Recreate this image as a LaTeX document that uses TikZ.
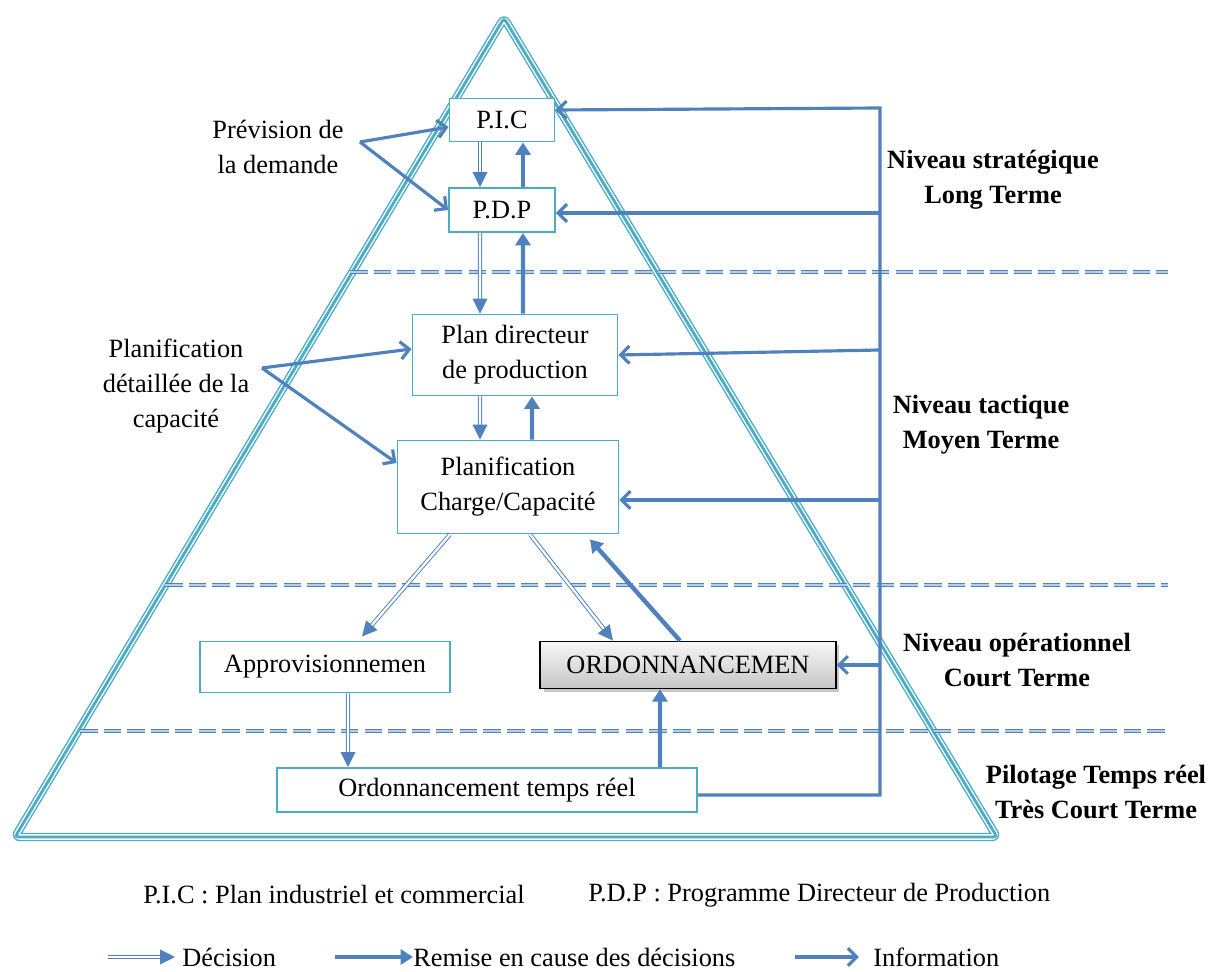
\documentclass[tikz,border=0pt]{standalone}
\usepackage{fontspec}
\setmainfont{Liberation Serif}
\usepackage{tikz}
\usetikzlibrary{arrows.meta, positioning, calc, shadows, decorations.markings}
\definecolor{infoblue}{RGB}{79,129,189}
\definecolor{pyramidcyan}{RGB}{75,172,198}
\newcommand{\diagfont}{\fontsize{15}{20}\selectfont}
\tikzstyle{box} = [rectangle, draw=pyramidcyan, line width=1.1pt, fill=white, align=center, inner sep=2pt]
\tikzstyle{ordobox} = [rectangle, draw=black, line width=0.9pt, top color=gray!6, bottom color=gray!45, drop shadow={shadow xshift=2pt, shadow yshift=-2pt, opacity=0.45}, align=center]
\tikzstyle{note} = [align=center, inner sep=0pt]
\tikzstyle{niveau} = [align=center, inner sep=0pt, font=\diagfont\bfseries]
\tikzstyle{decision} = [draw=infoblue, line width=0.55pt, double=white, double distance=1.3pt, shorten >=7pt, postaction={decorate}, decoration={markings, mark=at position 1 with {\fill[infoblue] (0pt,0pt) -- (-8.5pt,4.3pt) -- (-8.5pt,-4.3pt) -- cycle;}}]
\tikzstyle{remise} = [draw=infoblue, line width=2.5pt, -{Triangle[length=7pt,width=8.5pt]}]
\tikzstyle{info} = [draw=infoblue, line width=1.8pt, line join=miter, -{Straight Barb[length=5pt,width=10pt]}]
\tikzstyle{separation} = [draw=infoblue, line width=0.9pt, double=infoblue!40, double distance=0.6pt, dash pattern=on 10pt off 3.5pt]
\tikzstyle{pyramid} = [draw=pyramidcyan, line width=0.8pt, double=white, double distance=3.2pt, rounded corners=3pt]
\tikzstyle{pyramidmid} = [draw=pyramidcyan, line width=1.6pt, rounded corners=2pt]

\begin{document}
\begin{tikzpicture}[x=0.02cm, y=-0.02cm, font=\diagfont]
\useasboundingbox (0,0) rectangle (1225,972);

% ===== PYRAMIDE =====
\draw[pyramid] (504,18) -- (997,837) -- (15,837) -- cycle;
\draw[pyramidmid] (504,18) -- (997,837) -- (15,837) -- cycle;

% ===== NIVEAUX (separations) =====
\draw[separation] (350,272) -- (1168,272);
\draw[separation] (165,585) -- (1168,585);
\draw[separation] (80,731) -- (1168,731);

% ===== BOITES =====
\node (pic) [box, minimum width=2.1cm, minimum height=0.86cm] at (502,120) {P.I.C};
\node (pdp) [box, minimum width=2.12cm, minimum height=0.88cm] at (502,210) {P.D.P};
\node (pdir) [box, minimum width=4.1cm, minimum height=1.62cm] at (515,355) {Plan directeur\\de production};
\node (pcharge) [box, minimum width=4.42cm, minimum height=1.86cm] at (508,487) {Planification\\Charge/Capacité};
\node (appro) [box, minimum width=5cm, minimum height=1.02cm] at (325,667) {Approvisionnemen};
\node (ordo) [ordobox, minimum width=5.92cm, minimum height=0.94cm] at (688,665) {ORDONNANCEMEN};
\node (otr) [box, minimum width=8.4cm, minimum height=0.88cm] at (487,790) {Ordonnancement temps réel};

% ===== TEXTES =====
\node (prev_label) [note] at (278,147) {Prévision de\\la demande};
\node (plan_label) [note] at (176,386) {Planification\\détaillée de la\\capacité};
\coordinate (prev_pt) at (360,142);
\coordinate (plan_pt) at (262,368);

\node (niv_strat) [niveau] at (993,180) {Niveau stratégique\\Long Terme};
\node (niv_tact) [niveau] at (981,425) {Niveau tactique\\Moyen Terme};
\node (niv_oper) [niveau] at (1017,660) {Niveau opérationnel\\Court Terme};
\node (niv_pilot) [niveau] at (1096,792) {Pilotage Temps réel\\Très Court Terme};

% ===== DECISIONS =====
\draw[decision] ([xshift=-0.44cm]pic.south) -- ([xshift=-0.44cm]pdp.north);
\draw[decision] ([xshift=-0.44cm]pdp.south) -- ([xshift=-0.7cm]pdir.north);
\draw[decision] ([xshift=-0.7cm]pdir.south) -- ([xshift=-0.56cm]pcharge.north);
\draw[decision] ([xshift=-1.16cm]pcharge.south) -- ([xshift=0.74cm,yshift=0.08cm]appro.north);
\draw[decision] ([xshift=0.44cm]pcharge.south) -- ([xshift=-1.5cm]ordo.north);
\draw[decision] ([xshift=0.46cm]appro.south) -- ([xshift=-2.78cm]otr.north);

% ===== REMISE EN CAUSE =====
\draw[remise] ([xshift=0.42cm]pdp.north) -- ([xshift=0.42cm]pic.south);
\draw[remise] ([xshift=0.16cm]pdir.north) -- ([xshift=0.42cm]pdp.south);
\draw[remise] ([xshift=0.48cm]pcharge.north) -- ([xshift=0.34cm]pdir.south);
\draw[remise] ([xshift=-0.16cm]ordo.north) -- ([xshift=1.64cm,yshift=-0.1cm]pcharge.south);
\draw[remise] ([xshift=3.46cm]otr.north) -- ([xshift=-0.56cm]ordo.south);

% ===== INFORMATIONS =====
\coordinate (rail_top) at (880,108);
\coordinate (rail_bot) at (880,795);
\draw[info] ([yshift=-0.1cm]otr.east) -- (rail_bot) -- (rail_top) -- ([yshift=0.2cm]pic.east);
\draw[info] ([yshift=-0.06cm]pdp.east -| rail_top) -- ([yshift=-0.06cm]pdp.east);
\draw[info] ([yshift=0.1cm]pdir.east -| rail_top) -- (pdir.east);
\draw[info] ([yshift=-0.26cm]pcharge.east -| rail_top) -- ([yshift=-0.26cm]pcharge.east);
\draw[info] (ordo.east -| rail_top) -- (ordo.east);

\draw[info] (prev_pt) -- ([yshift=-0.14cm]pic.west);
\draw[info] (prev_pt) -- (pdp.west);
\draw[info] (plan_pt) -- ([yshift=0.12cm]pdir.west);
\draw[info] (plan_pt) -- ([yshift=0.48cm]pcharge.west);

% ===== ABREVIATIONS =====
\node (abr_pic) [anchor=west, inner sep=0pt] at (143,895) {P.I.C : Plan industriel et commercial};
\node (abr_pdp) [anchor=west, inner sep=0pt] at (588,895) {P.D.P : Programme Directeur de Production};

% ===== LEGENDE =====
\coordinate (leg_dec_start) at (108,957);
\coordinate (leg_rem_start) at (335,957);
\coordinate (leg_info_start) at (795,957);
\node (leg_dec) [anchor=west, inner sep=0pt] at (182,957) {Décision};
\node (leg_rem) [anchor=west, inner sep=0pt] at (413,957) {Remise en cause des décisions};
\node (leg_info) [anchor=west, inner sep=0pt] at (873,957) {Information};
\draw[decision] (leg_dec_start) -- ([xshift=-4pt]leg_dec.west);
\draw[remise] (leg_rem_start) -- (leg_rem.west);
\draw[info] (leg_info_start) -- ([xshift=-8pt]leg_info.west);

\end{tikzpicture}
\end{document}
